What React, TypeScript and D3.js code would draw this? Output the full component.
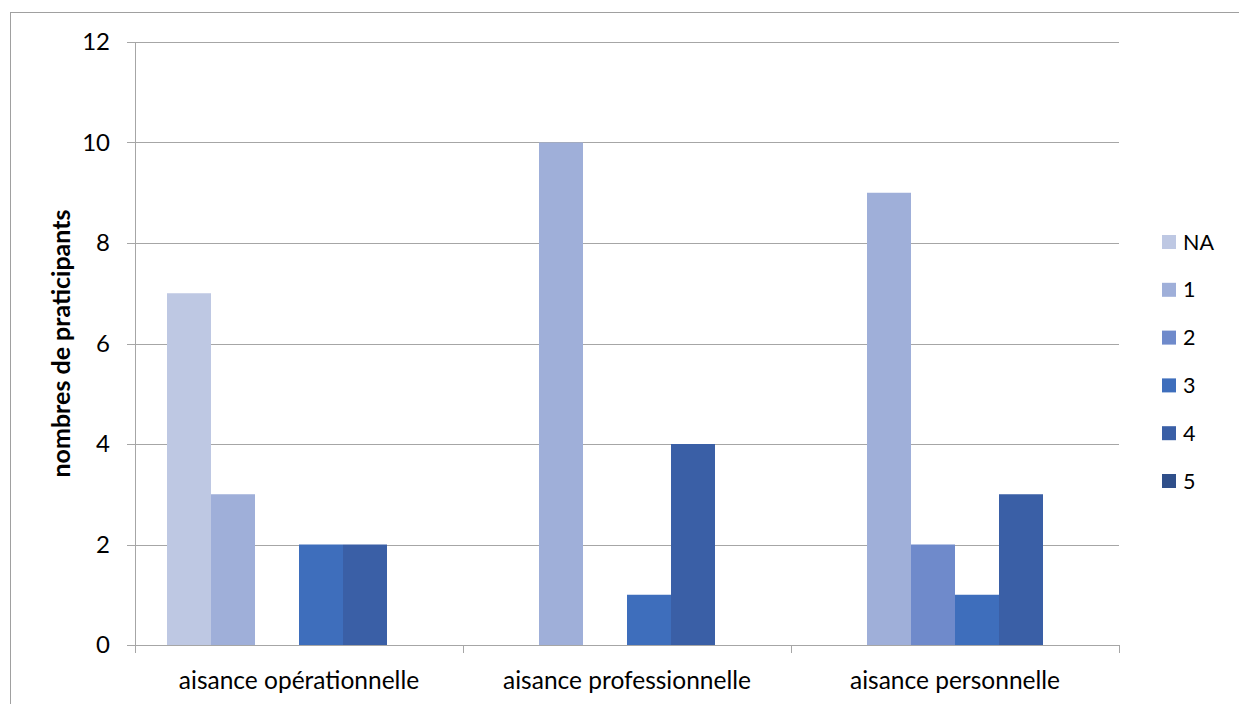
import React from "react";
import * as d3 from "d3";

const categories = ["aisance opérationnelle", "aisance professionnelle", "aisance personnelle"];
const seriesNames = ["NA", "1", "2", "3", "4", "5"];
const seriesColors = ["#BEC8E3", "#9FAFD9", "#6F8ACB", "#3E6EBC", "#3A5FA6", "#2F4F8A"];
const valuesNA = [7, 0, 0];
const values1 = [3, 10, 9];
const values2 = [0, 0, 2];
const values3 = [2, 1, 1];
const values4 = [2, 4, 3];
const values5 = [0, 0, 0];
const yTicks = [0, 2, 4, 6, 8, 10, 12];

const seriesValues = [valuesNA, values1, values2, values3, values4, values5];

const W = 1239, H = 704;
const left = 135, right = 1119, top = 42, bottom = 645;
const font = "Lato, 'Open Sans', sans-serif";

export default function App() {
  const x0 = d3.scaleBand<string>().domain(categories).range([left, right]).paddingInner(0).paddingOuter(0);
  const groupPad = 32;
  const x1 = d3.scaleBand<string>().domain(seriesNames).range([0, x0.bandwidth() - 2 * groupPad]).padding(0);
  const y = d3.scaleLinear().domain([0, 12]).range([bottom, top]);
  const catTicks = [...categories.map((c) => x0(c)!), right];

  return (
    <svg width={W} height={H} style={{ position: "absolute", left: 0, top: 0, background: "#fff" }}>
      <line x1={10.5} y1={12} x2={10.5} y2={H} stroke="#a0a0a0" strokeWidth={1} />
      <line x1={10} y1={12.5} x2={W} y2={12.5} stroke="#a0a0a0" strokeWidth={1} />
      {yTicks.map((t) => (
        <g key={t}>
          <line x1={left - 8} x2={right} y1={Math.round(y(t)) + 0.5} y2={Math.round(y(t)) + 0.5} stroke="#a6a6a6" strokeWidth={1} />
          <text x={110} y={y(t)} dy="0.35em" textAnchor="end" fontFamily={font} fontSize={24} fill="#000">{t}</text>
        </g>
      ))}
      <line x1={left + 0.5} x2={left + 0.5} y1={top} y2={bottom} stroke="#a6a6a6" strokeWidth={1} />
      {catTicks.map((cx, i) => (
        <line key={i} x1={Math.round(cx) + 0.5} x2={Math.round(cx) + 0.5} y1={bottom} y2={bottom + 8} stroke="#a6a6a6" strokeWidth={1} />
      ))}
      {categories.map((c, ci) => (
        <g key={c}>
          {seriesNames.map((s, si) => {
            const v = seriesValues[si][ci];
            if (!v) return null;
            const bx = x0(c)! + groupPad + x1(s)!;
            return (
              <rect key={s} x={bx} y={y(v)} width={x1.bandwidth()} height={y(0) - y(v)} fill={seriesColors[si]} />
            );
          })}
          <text x={x0(c)! + x0.bandwidth() / 2} y={689} textAnchor="middle" fontFamily={font} fontSize={24.5} fill="#000">{c}</text>
        </g>
      ))}
      <text transform={`translate(70,${(top + bottom) / 2}) rotate(-90)`} textAnchor="middle" fontFamily={font} fontSize={25} fontWeight="bold" fill="#000">nombres de praticipants</text>
      {seriesNames.map((s, i) => (
        <g key={s} transform={`translate(1162,${242 + i * 47.8})`}>
          <rect x={0} y={-7} width={14} height={14} fill={seriesColors[i]} />
          <text x={21} y={0} dy="0.35em" fontFamily={font} fontSize={21.5} fill="#000">{s}</text>
        </g>
      ))}
    </svg>
  );
}
